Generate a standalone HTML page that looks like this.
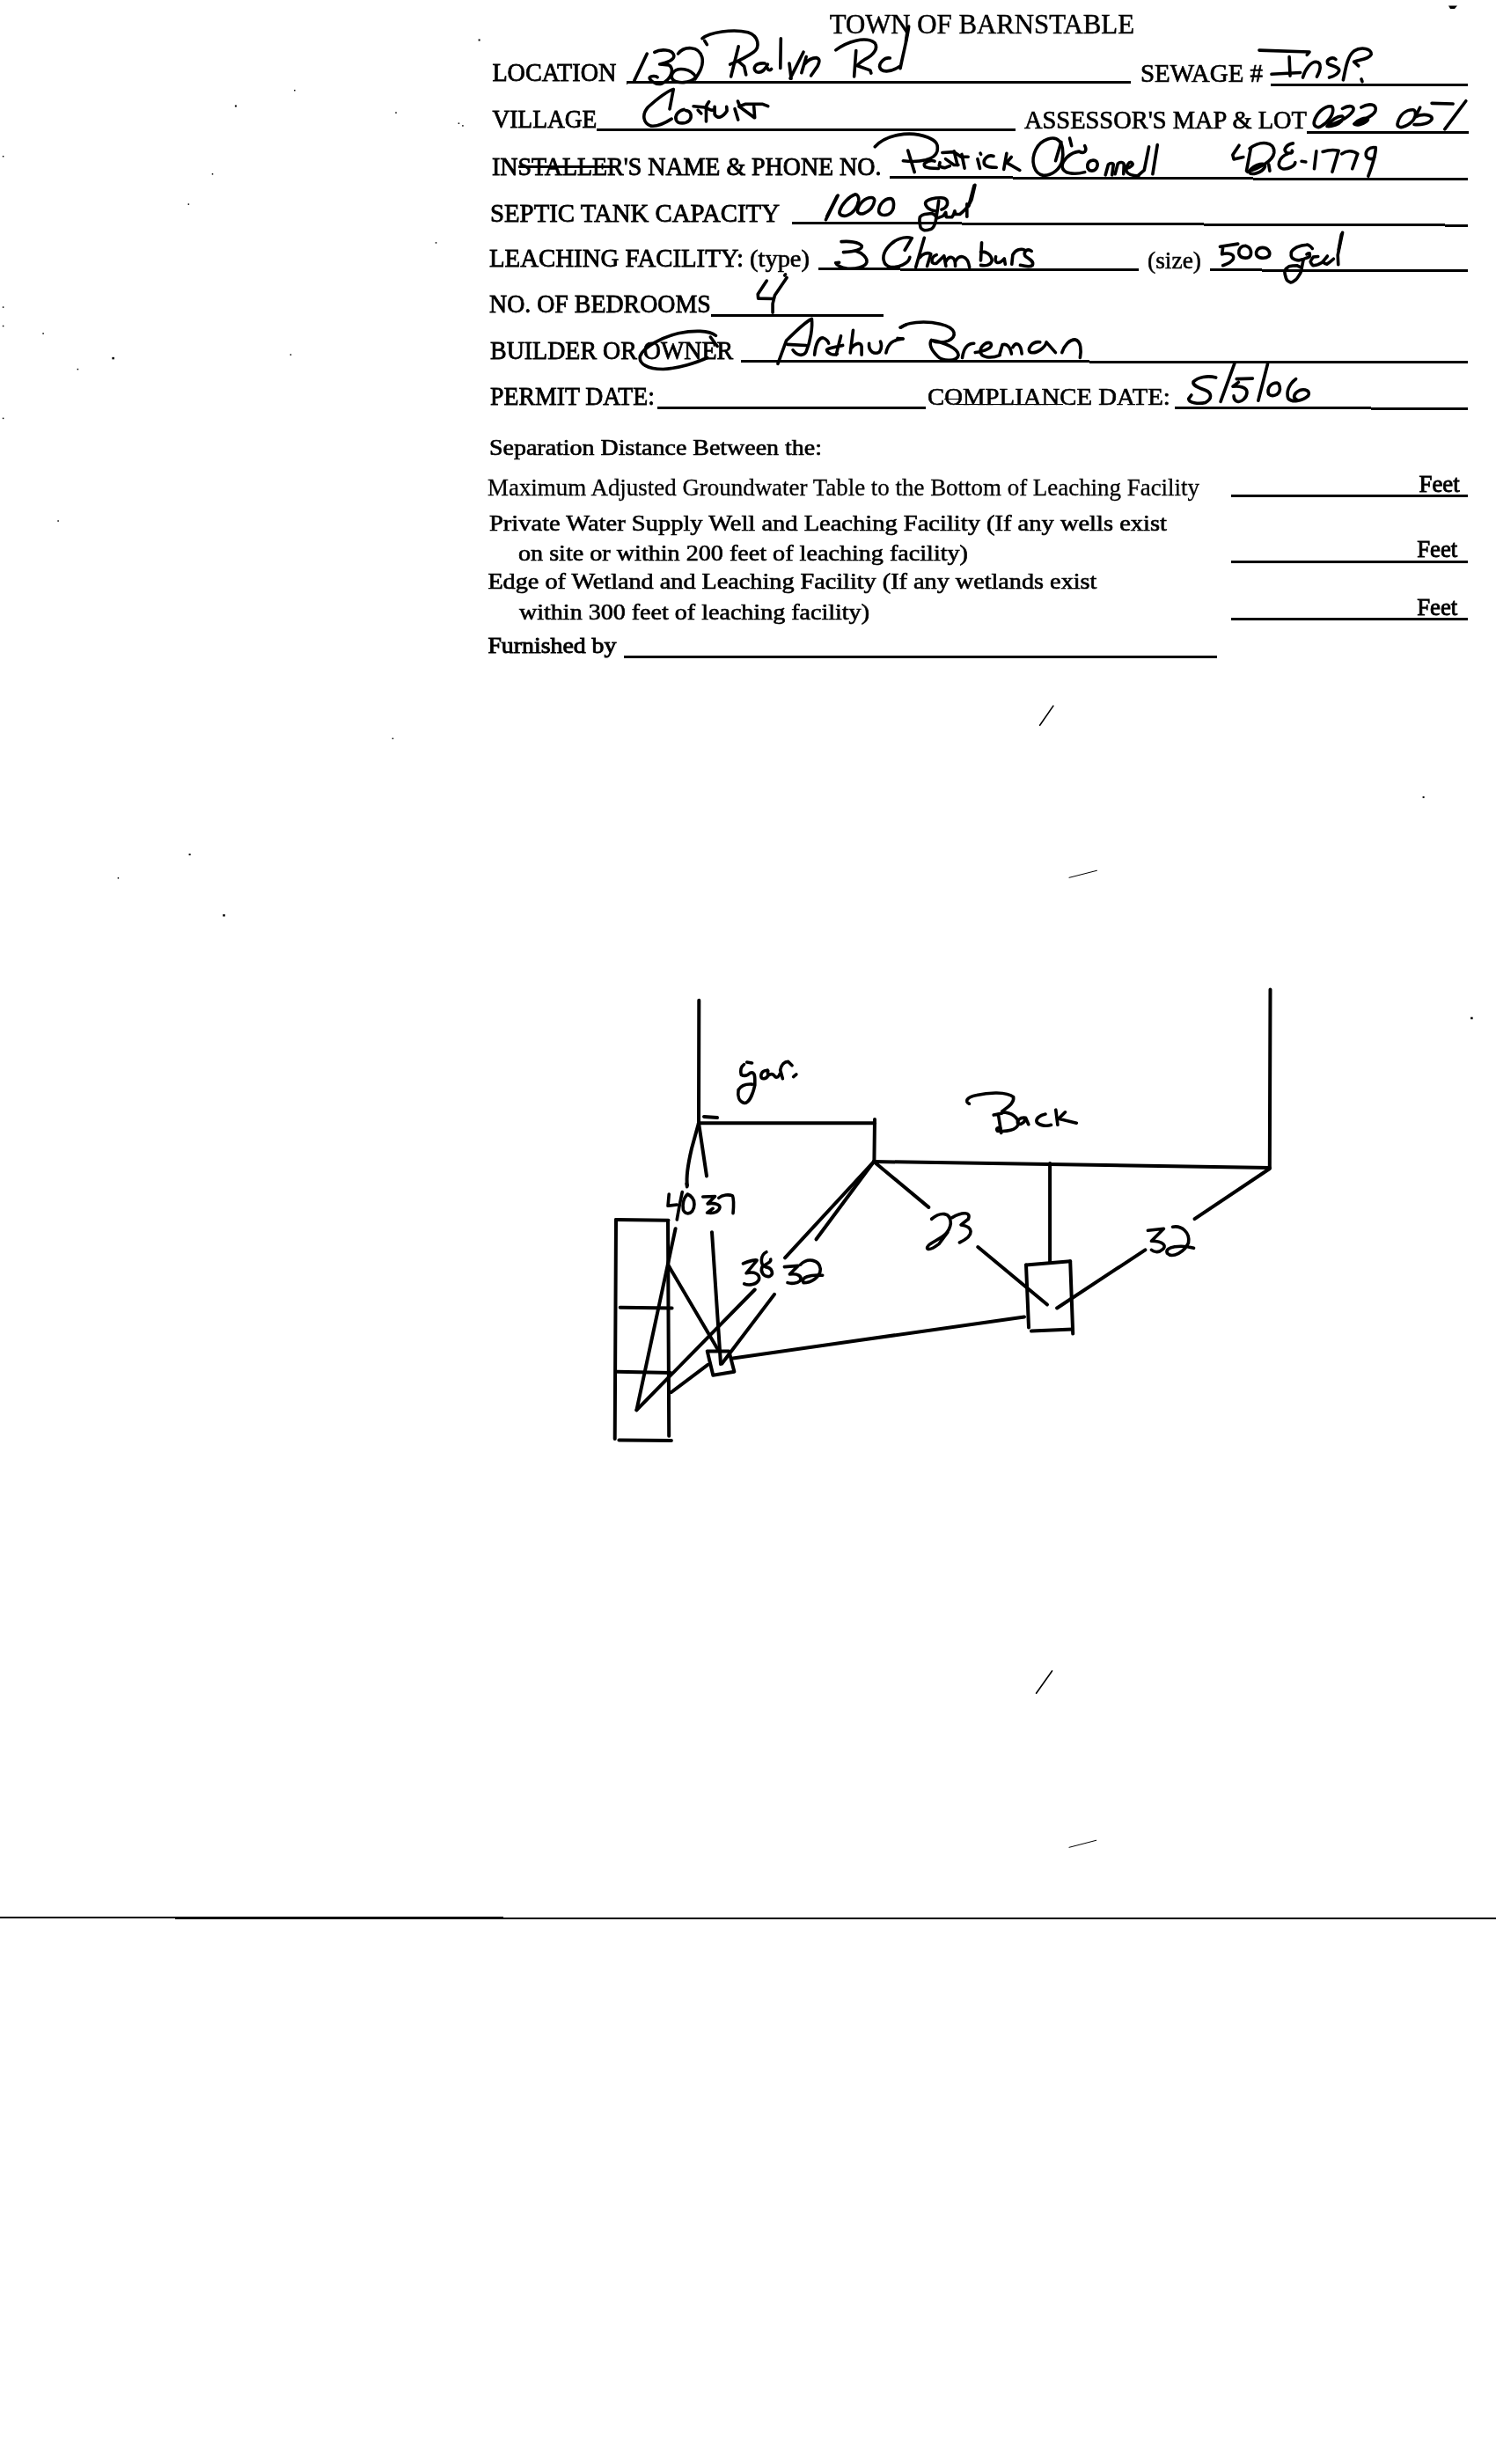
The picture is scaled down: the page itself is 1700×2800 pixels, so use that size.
<!DOCTYPE html><html><head><meta charset="utf-8"><style>html,body{margin:0;padding:0;background:#fff;width:1700px;height:2800px;overflow:hidden}svg{display:block;will-change:transform}text{font-family:"Liberation Serif",serif;fill:#000}</style></head><body>
<svg width="1700" height="2800" viewBox="0 0 1700 2800">
<g>
<text x="942.7" y="38.0" font-size="31" textLength="346.3" lengthAdjust="spacingAndGlyphs" stroke="#000" stroke-width="0.5">TOWN OF BARNSTABLE</text>
<text x="559.4" y="91.6" font-size="29" textLength="141" lengthAdjust="spacingAndGlyphs" stroke="#000" stroke-width="0.8">LOCATION</text>
<text x="1296" y="92.5" font-size="29" textLength="139" lengthAdjust="spacingAndGlyphs" stroke="#000" stroke-width="0.7">SEWAGE #</text>
<text x="559.4" y="145" font-size="29" textLength="119" lengthAdjust="spacingAndGlyphs" stroke="#000" stroke-width="0.8">VILLAGE</text>
<text x="1164" y="145.7" font-size="29" textLength="321" lengthAdjust="spacingAndGlyphs" stroke="#000" stroke-width="0.7">ASSESSOR'S MAP &amp; LOT</text>
<text x="559" y="198.8" font-size="29" textLength="442.4" lengthAdjust="spacingAndGlyphs" stroke="#000" stroke-width="0.9">INSTALLER'S NAME &amp; PHONE NO.</text>
<text x="557" y="251.5" font-size="29" textLength="329" lengthAdjust="spacingAndGlyphs" stroke="#000" stroke-width="0.8">SEPTIC TANK CAPACITY</text>
<text x="556" y="303" font-size="29" textLength="289" lengthAdjust="spacingAndGlyphs" stroke="#000" stroke-width="0.8">LEACHING FACILITY:</text>
<text x="852" y="303" font-size="27" textLength="68" lengthAdjust="spacingAndGlyphs" stroke="#000" stroke-width="0.6">(type)</text>
<text x="1304" y="304.5" font-size="27" textLength="61" lengthAdjust="spacingAndGlyphs" stroke="#000" stroke-width="0.5">(size)</text>
<text x="556" y="355" font-size="28.5" textLength="251.7" lengthAdjust="spacingAndGlyphs" stroke="#000" stroke-width="0.8">NO. OF BEDROOMS</text>
<text x="557" y="407.6" font-size="28.5" textLength="276.2" lengthAdjust="spacingAndGlyphs" stroke="#000" stroke-width="0.8">BUILDER OR OWNER</text>
<text x="557" y="460.3" font-size="28.5" textLength="187" lengthAdjust="spacingAndGlyphs" stroke="#000" stroke-width="0.8">PERMIT DATE:</text>
<text x="1054" y="460.3" font-size="27" textLength="275.8" lengthAdjust="spacingAndGlyphs" stroke="#000" stroke-width="0.6">COMPLIANCE DATE:</text>
<text x="556" y="516.5" font-size="26" textLength="378" lengthAdjust="spacingAndGlyphs" stroke="#000" stroke-width="0.65">Separation Distance Between the:</text>
<text x="554" y="563.2" font-size="27" textLength="809" lengthAdjust="spacingAndGlyphs" stroke="#000" stroke-width="0.3">Maximum Adjusted Groundwater Table to the Bottom of Leaching Facility</text>
<text x="1612.6" y="559.1" font-size="27" textLength="46.1" lengthAdjust="spacingAndGlyphs" stroke="#000" stroke-width="0.9">Feet</text>
<text x="556" y="603.3" font-size="26" textLength="770" lengthAdjust="spacingAndGlyphs" stroke="#000" stroke-width="0.65">Private Water Supply Well and Leaching Facility  (If any wells exist</text>
<text x="589" y="637.1" font-size="26" textLength="511" lengthAdjust="spacingAndGlyphs" stroke="#000" stroke-width="0.65">on site or within 200 feet of leaching facility)</text>
<text x="1610.2" y="633.3" font-size="27" textLength="46.1" lengthAdjust="spacingAndGlyphs" stroke="#000" stroke-width="0.9">Feet</text>
<text x="554.4" y="669.2" font-size="26" textLength="692" lengthAdjust="spacingAndGlyphs" stroke="#000" stroke-width="0.65">Edge of Wetland and Leaching Facility (If any wetlands exist</text>
<text x="590" y="704.3" font-size="26" textLength="398" lengthAdjust="spacingAndGlyphs" stroke="#000" stroke-width="0.65">within 300 feet of leaching facility)</text>
<text x="1610.2" y="699" font-size="27" textLength="46.1" lengthAdjust="spacingAndGlyphs" stroke="#000" stroke-width="0.9">Feet</text>
<text x="554.4" y="742.4" font-size="26" textLength="146" lengthAdjust="spacingAndGlyphs" stroke="#000" stroke-width="0.9">Furnished by</text>
</g><g stroke="#000" fill="none" stroke-linecap="butt" shape-rendering="crispEdges">
<line x1="712.5" y1="94.0" x2="1285" y2="93.8" stroke-width="3.0"/>
<line x1="1444.4" y1="96.5" x2="1667.7" y2="96.9" stroke-width="3.0"/>
<line x1="678" y1="147.1" x2="1154" y2="147.9" stroke-width="3.0"/>
<line x1="1485" y1="150.3" x2="1668.7" y2="150.7" stroke-width="3.0"/>
<line x1="1011.4" y1="201.5" x2="1667.7" y2="203.9" stroke-width="3.0"/>
<line x1="900" y1="253.3" x2="1667.7" y2="256.1" stroke-width="3.0"/>
<line x1="930" y1="305.8" x2="1294.4" y2="306.6" stroke-width="3.0"/>
<line x1="1374.6" y1="306.8" x2="1667.7" y2="307.8" stroke-width="3.0"/>
<line x1="808" y1="358" x2="1004.4" y2="358.2" stroke-width="3.0"/>
<line x1="842.3" y1="410.1" x2="1667.6" y2="412" stroke-width="3.0"/>
<line x1="747" y1="463.1" x2="1052" y2="463.5" stroke-width="3.0"/>
<line x1="1334.8" y1="463.4" x2="1667.6" y2="464.3" stroke-width="3.0"/>
<line x1="1399" y1="563.1" x2="1667.7" y2="563.3" stroke-width="3.0"/>
<line x1="1399" y1="638.3" x2="1667.7" y2="638.5" stroke-width="3.0"/>
<line x1="1399" y1="703.5" x2="1667.7" y2="703.7" stroke-width="3.0"/>
<line x1="709.4" y1="746.2" x2="1383" y2="746.2" stroke-width="2.6"/>
<line x1="0" y1="2179.3" x2="1700" y2="2180.2" stroke-width="2.2"/>
<line x1="588.8" y1="189.4" x2="699.7" y2="189.4" stroke-width="3.0"/>
<line x1="1073" y1="453.5" x2="1092" y2="453.5" stroke-width="1.8"/>
<line x1="1086" y1="459.3" x2="1208.4" y2="459.3" stroke-width="1.6"/>
</g><g stroke="#000" fill="none" stroke-width="4" stroke-linecap="round" stroke-linejoin="round">
<line x1="794.3" y1="1136.7" x2="794" y2="1276"/>
<line x1="794" y1="1276.2" x2="994" y2="1276.2"/>
<line x1="800" y1="1269" x2="815" y2="1270"/>
<line x1="994" y1="1272" x2="993.4" y2="1320"/>
<line x1="993" y1="1320" x2="1442.8" y2="1327"/>
<line x1="1443.5" y1="1124.6" x2="1442.8" y2="1327"/>
<line x1="993" y1="1320" x2="1055.3" y2="1371.9"/>
<line x1="1111.2" y1="1417" x2="1190" y2="1482.5"/>
<line x1="1193.1" y1="1322" x2="1193.1" y2="1434.3"/>
<line x1="1442.8" y1="1328" x2="1357.5" y2="1385.2"/>
<line x1="1301.4" y1="1420.3" x2="1201.1" y2="1486.5"/>
<line x1="993" y1="1320" x2="892" y2="1429.4"/>
<line x1="993" y1="1320" x2="927.5" y2="1408.3"/>
<line x1="857.7" y1="1465.5" x2="723.4" y2="1602.3"/>
<line x1="880" y1="1470.9" x2="820.4" y2="1549.5"/>
<line x1="723.4" y1="1602.3" x2="767.6" y2="1396.2"/>
<line x1="759" y1="1437" x2="815.7" y2="1533.4"/>
<line x1="809" y1="1400.2" x2="819" y2="1550"/>
<line x1="763" y1="1582" x2="804.3" y2="1550.8"/>
<line x1="833" y1="1543.4" x2="1164" y2="1496.4"/>
<line x1="794" y1="1276" x2="803" y2="1336.4"/>
<line x1="700" y1="1386" x2="698.7" y2="1635"/>
<line x1="700" y1="1386" x2="759.5" y2="1386.8"/>
<line x1="759" y1="1387" x2="760.2" y2="1631.7"/>
<line x1="703.4" y1="1636.4" x2="762.9" y2="1637"/>
<line x1="704.7" y1="1485.7" x2="763.6" y2="1486.5"/>
<line x1="701.4" y1="1558.8" x2="762" y2="1560"/>
<line x1="1166" y1="1437.4" x2="1216.2" y2="1433.3"/>
<line x1="1166" y1="1437.4" x2="1169" y2="1508.5"/>
<line x1="1216.2" y1="1433.3" x2="1219.2" y2="1515.6"/>
<line x1="1172" y1="1512.6" x2="1219" y2="1510.5"/>
<path d="M794,1276 L786,1305 Q779,1335 781,1347"/>
<path d="M803.7,1535.4 L828.4,1535.4 L834.4,1558.8 L810.3,1562.8 Z"/>
</g><g stroke="#000" fill="none" stroke-linecap="round">
<line x1="1181.6" y1="824.2" x2="1196.9" y2="802.1" stroke-width="1.6"/>
<line x1="1177.5" y1="1924.2" x2="1195.6" y2="1898.8" stroke-width="1.6"/>
<line x1="1215" y1="997.3" x2="1246.4" y2="989.3" stroke-width="1.0"/>
<line x1="1215" y1="2099.3" x2="1245.7" y2="2091.3" stroke-width="1.0"/>
</g><g stroke="#000" fill="none" stroke-linecap="round" stroke-linejoin="round">
<g transform="translate(700,30) scale(0.10695)" stroke-width="33.66">
<path d="M330,290 L195,575"/>
<path d="M410,275 C470,240 600,240 615,310 C620,350 560,380 465,402 L560,410 C620,440 600,560 480,610 C420,625 340,560 360,540 C380,520 430,530 440,540"/>
<path d="M660,290 C720,210 880,200 915,330 C935,420 880,500 840,560 M850,540 C800,450 650,420 600,500 C570,560 620,600 720,595 C790,590 830,560 850,540"/>
</g>
<g transform="translate(790,25) scale(0.10695)" stroke-width="33.66">
<path d="M75,175 C150,110 400,70 560,110 C680,150 690,270 620,320 C550,370 470,410 370,450"/>
<path d="M460,260 L380,580"/>
<path d="M460,420 L520,470 L540,560"/>
<path d="M740,440 C640,430 600,490 650,530 C700,550 740,510 770,450 M760,460 C770,520 790,520 810,500"/>
<path d="M910,175 L905,490"/>
<path d="M1000,440 L1020,600 M1150,320 L1010,600"/>
<path d="M1180,370 L1130,540 M1160,450 C1200,400 1250,380 1290,380 C1330,390 1320,430 1300,470 L1230,570"/>
<path d="M100,200 L125,240"/>
</g>
<g transform="translate(930,20) scale(0.10695)" stroke-width="33.66">
<path d="M185,345 C300,260 500,190 600,270 C640,330 580,400 500,440 C450,470 420,500 410,510 L550,560 L560,590"/>
<path d="M400,350 L380,625"/>
<path d="M760,430 C700,420 650,480 650,520 C660,580 760,590 860,520"/>
<path d="M960,95 C950,200 900,380 870,540"/>
<path d="M950,110 L930,250"/>
</g>
<g transform="translate(715,95) scale(0.10695)" stroke-width="33.66">
<path d="M430,270 L470,60 C400,80 300,160 200,250 C130,330 150,420 230,450 C300,460 380,420 450,375"/>
<path d="M580,275 C520,290 480,340 500,390 C520,430 600,430 640,390 C670,350 660,290 600,285"/>
<path d="M848,193 C830,215 818,226 818,260 L818,402"/>
<path d="M683,241 L803,253 L870,282 L900,282"/>
<path d="M731,282 L765,317"/>
<path d="M908,246 L908,328 C920,350 945,358 960,358 C990,350 1020,320 1039,290 L1035,246"/>
<path d="M1154,187 L1169,224 M1122,268 L1157,384"/>
<path d="M1169,243 L1231,218 L1419,218 L1475,240"/>
<path d="M1169,243 L1331,362 M1325,243 L1334,362"/>
</g>
<g transform="translate(990,140) scale(0.10695)" stroke-width="33.66">
<path d="M40,250 C150,130 400,70 600,150 C700,190 715,230 700,300 C690,340 650,370 580,391 C500,410 420,410 340,400"/>
<path d="M390,290 L460,520"/>
<path d="M674,403 C640,390 600,400 565,429 C560,450 570,466 580,466 C600,480 636,481 715,481"/>
<path d="M730,418 L722,451 C740,470 786,474 786,474 L835,455"/>
<path d="M756,313 L880,305 L955,358 L1030,358"/>
<path d="M790,380 L880,444 L925,444"/>
<path d="M880,298 L917,444"/>
<path d="M962,331 L992,478"/>
<path d="M1160,320 L1165,330 M1130,380 L1155,480"/>
<path d="M1300,350 C1240,330 1190,380 1200,430 C1220,470 1280,470 1330,470"/>
</g>
<g transform="translate(1130,140) scale(0.10695)" stroke-width="33.66">
<path d="M130,320 L100,490 M180,360 L130,420 L270,500"/>
<path d="M690,190 C640,130 500,160 440,280 C380,400 420,540 520,555 C620,560 700,480 720,400 C740,300 720,220 690,190"/>
<path d="M710,200 L650,400"/>
<path d="M800,160 L820,240"/>
<path d="M960,240 C990,300 950,330 900,300 C800,310 720,400 720,460 C730,540 850,550 960,520"/>
<path d="M1040,395 C990,400 970,460 1010,500 C1060,520 1100,480 1095,430 C1090,400 1060,390 1040,395"/>
<path d="M1180,550 L1210,440 C1230,420 1260,420 1265,440 L1250,550"/>
</g>
<g transform="translate(1250,140) scale(0.10695)" stroke-width="33.66">
<path d="M160,540 L190,430 C210,410 250,410 255,440 L250,540"/>
<path d="M280,480 C330,470 360,440 340,420 C310,400 270,460 280,510 C300,550 360,560 410,560"/>
<path d="M520,250 C500,350 480,450 470,500 L400,560"/>
<path d="M610,230 L560,540"/>
</g>
<g transform="translate(1390,140) scale(0.12032)" stroke-width="29.92">
<path d="M150,210 L90,300 L100,340 L190,320"/>
<path d="M260,240 L220,450"/>
<path d="M250,240 C350,160 490,170 480,280 C470,360 330,430 230,460"/>
<path d="M240,460 C300,380 420,360 390,420 C360,470 270,490 250,470"/>
<path d="M430,390 L440,450"/>
<path d="M660,190 C600,200 560,250 600,280 C650,290 660,270 650,260 M610,290 C520,320 500,420 560,430 C620,440 680,400 680,370"/>
<path d="M740,360 L780,365"/>
<path d="M880,265 L860,430"/>
<path d="M940,270 C1000,250 1050,250 1090,260 L1030,460"/>
<path d="M1120,290 C1160,260 1220,250 1270,290 L1220,430"/>
<path d="M1440,230 C1380,220 1340,260 1350,310 C1370,350 1420,340 1430,320 M1440,230 C1440,300 1400,420 1370,500"/>
</g>
<g transform="translate(1480,90) scale(0.13369)" stroke-width="26.93">
<path d="M240,230 C180,230 120,290 100,360 C90,400 130,420 160,400 C220,370 260,300 260,260 C260,240 250,230 240,230"/>
<path d="M340,250 C390,220 450,220 430,270 C400,320 300,370 210,400 M210,400 C240,350 300,310 340,315 C360,330 330,370 280,390 C250,400 220,405 210,400"/>
<path d="M500,240 C560,200 640,210 620,270 C600,320 500,350 440,380 M440,380 C470,345 530,325 555,335 C565,350 530,375 490,385 C470,390 450,390 440,380"/>
<path d="M940,260 C880,260 830,300 810,370 C800,400 830,420 870,400 C940,370 970,320 960,280 C955,265 945,260 940,260"/>
<path d="M1000,240 L960,320 C1020,290 1110,300 1100,340 C1080,380 1000,390 950,385"/>
<path d="M1100,205 L1280,210 M1390,185 L1210,425"/>
</g>
<g transform="translate(1430,45) scale(0.09358)" stroke-width="38.47">
<path d="M10,130 L620,150 L590,185"/>
<path d="M375,210 L385,440"/>
<path d="M160,420 L510,400"/>
<path d="M540,460 C570,350 640,270 700,270 C780,280 750,380 710,450"/>
<path d="M940,240 C900,200 820,240 840,290 C870,320 990,330 980,380 C960,430 900,450 860,460"/>
<path d="M1030,490 C1060,350 1080,200 1160,140 C1250,80 1380,110 1370,180 C1350,230 1250,240 1160,270 L1215,320"/>
<path d="M1250,480 L1261,510"/>
</g>
<g transform="translate(930,210) scale(0.12032)" stroke-width="29.92">
<path d="M185,100 L70,330"/>
<path d="M175,110 L80,300"/>
<path d="M350,90 C290,110 220,180 200,250 C190,290 240,300 270,290 C330,270 370,210 380,150 C385,110 365,90 350,90"/>
<path d="M500,120 C440,120 380,180 370,240 C365,270 400,280 430,270 C480,250 520,220 530,150 C530,130 515,120 500,120"/>
<path d="M680,130 C620,130 570,190 570,250 C575,285 620,295 660,280 C700,260 715,220 710,170 C705,140 690,130 680,130"/>
<path d="M1105,247 C1030,235 1005,190 1012,167 C1025,135 1100,122 1159,123 C1210,125 1225,150 1216,190 C1205,215 1175,230 1163,234"/>
<path d="M1136,150 C1130,200 1125,240 1123,247 L1105,358 C1090,400 1070,420 1056,421 C1030,430 1003,430 1003,430 C980,420 963,410 963,394 C955,360 955,320 959,305 C975,285 990,280 1003,278 L1070,270 C1085,275 1095,280 1101,287"/>
<path d="M1101,287 L1123,314 C1150,305 1170,300 1181,292 C1190,280 1200,265 1203,261 C1205,280 1206,295 1208,305 L1261,305 C1275,290 1285,260 1288,247 C1290,260 1294,270 1296,278 L1336,278 C1360,260 1380,240 1394,225 C1420,190 1440,160 1448,136 L1479,3"/>
<path d="M1470,10 L1420,200"/>
<path d="M1403,181 L1403,301"/>
</g>
<g transform="translate(940,265) scale(0.08021)" stroke-width="44.88">
<path d="M200,120 C300,110 450,120 490,180 C500,230 400,260 230,270 M400,250 C500,280 570,350 560,410 C540,480 400,510 280,500 C200,490 130,450 120,420 L170,415"/>
<path d="M1100,240 L1200,70 C1100,40 950,80 850,210 C760,330 790,460 900,480 C1010,490 1160,430 1170,340"/>
</g>
<g transform="translate(1030,265) scale(0.10695)" stroke-width="33.66">
<path d="M190,50 L100,360 M140,260 C170,220 220,200 260,220 L220,350"/>
<path d="M320,230 C260,250 250,340 320,320 L400,240 L420,350 M420,300 C450,240 520,230 520,350 M520,300 C560,220 650,230 670,360"/>
<path d="M800,100 L790,290 M790,200 C840,190 900,220 910,290 C900,340 840,350 790,340"/>
<path d="M950,250 C930,320 980,340 1040,270 L1050,330"/>
<path d="M1120,330 L1130,230 C1160,170 1220,160 1260,180"/>
<path d="M1330,190 C1290,160 1240,190 1260,240 C1290,270 1360,290 1340,340 C1320,360 1250,350 1210,340"/>
</g>
<g transform="translate(1380,260) scale(0.10695)" stroke-width="33.66">
<path d="M60,190 L250,160 M90,200 L80,270 C150,250 220,270 200,320 C180,360 120,380 90,390"/>
<path d="M330,180 C280,180 255,220 260,260 C270,310 330,320 370,300 C400,270 400,200 330,180"/>
<path d="M510,200 C460,200 440,240 445,270 C460,320 540,320 580,290 C600,250 570,200 510,200"/>
<path d="M1041,210 C1020,180 990,165 981,170 C930,170 876,195 876,195 C840,215 820,240 816,250 C810,280 820,300 826,310 C850,330 880,335 901,335 L936,325"/>
<path d="M981,270 C995,260 1011,260 1011,260 C1015,275 1013,290 1011,295 C990,310 960,315 951,320 C945,330 941,345 941,350 L931,400 C925,440 915,470 911,475 C890,510 875,535 866,540 C840,560 820,570 811,570 C780,560 765,540 761,525 C750,490 746,460 746,450 C760,420 780,405 791,400 C820,392 850,390 876,390 L926,415"/>
<path d="M1101,295 C1080,295 1060,298 1051,300 C1035,320 1022,340 1021,350 C1030,375 1045,388 1051,390 C1070,388 1090,384 1101,380 L1161,350"/>
<path d="M1201,290 C1180,315 1160,340 1151,350 C1165,365 1185,373 1196,375 C1220,360 1250,335 1266,320"/>
<path d="M1361,40 L1311,280 L1316,380"/>
<path d="M1350,60 L1320,220"/>
</g>
<g transform="translate(850,305) scale(0.04011)" stroke-width="89.75">
<path d="M530,350 L280,730 L290,850 L720,860"/>
<path d="M1100,260 L760,760 L700,1000 L700,1250"/>
<path d="M1060,170 L1040,200"/>
</g>
<g transform="translate(870,355) scale(0.10695)" stroke-width="33.66">
<path d="M130,545 L220,300 C300,220 420,100 490,70 C500,150 480,300 430,420 C400,470 330,460 290,400"/>
<path d="M230,340 L430,350"/>
<path d="M520,450 C530,350 560,270 610,270 C650,280 670,320 670,330"/>
<path d="M800,250 L750,450 M820,350 C750,370 650,380 650,400 C660,440 720,460 760,440"/>
<path d="M930,190 L900,430 M910,380 C950,330 1010,310 1020,360 L1020,450"/>
<path d="M1100,330 C1090,420 1160,450 1210,420 C1240,380 1230,330 1220,310"/>
<path d="M1280,430 C1300,330 1350,290 1460,280"/>
<path d="M1430,160 L1496,130"/>
</g>
<g transform="translate(1020,355) scale(0.14706)" stroke-width="24.48">
<path d="M30,115 C60,80 200,60 330,90 C460,120 460,190 390,220 C330,240 280,225 260,215 C360,230 470,280 470,330 C460,380 350,380 310,340 C270,300 240,250 260,215"/>
<path d="M0,200 L40,205"/>
<path d="M500,350 C510,280 540,240 590,240"/>
<path d="M600,310 C680,300 740,270 720,240 C690,220 640,260 640,300 C640,350 720,360 790,330"/>
<path d="M790,320 L810,250 C840,240 870,260 880,320 M890,270 C910,230 950,230 960,320"/>
<path d="M1100,230 C1040,220 990,290 1030,310 C1080,320 1140,270 1150,230 L1220,310"/>
<path d="M1270,310 C1290,250 1330,210 1370,210 C1420,220 1420,300 1410,350"/>
</g>
<g transform="translate(1340,405) scale(0.10695)" stroke-width="33.66">
<path d="M390,225 C300,200 200,220 150,270 C140,310 200,330 280,360 C350,390 350,450 280,490 C200,510 100,490 100,450 L130,410"/>
<path d="M590,70 L440,480"/>
<path d="M780,235 L610,240 M630,275 L570,320 C640,310 720,330 720,380 C720,440 660,490 620,480 C590,470 580,440 580,420"/>
<path d="M940,80 L840,470"/>
<path d="M1040,280 C970,280 930,340 950,400 C980,430 1060,420 1070,350 C1070,300 1050,280 1040,280"/>
<path d="M1240,240 C1170,290 1130,380 1160,450 C1200,490 1300,480 1370,420 C1400,370 1340,340 1280,360 C1220,390 1200,440 1250,460"/>
</g>
<g transform="translate(710,370) scale(0.08690)" stroke-width="41.43">
<path d="M1190,130 C1100,60 900,60 700,100 C500,150 250,270 200,400 C180,500 300,570 500,570 C700,560 950,480 1080,420"/>
<path d="M1120,150 L1210,270"/>
</g>
<g transform="translate(830,1200) scale(0.05348)" stroke-width="67.32">
<path d="M460,150 L350,130 M290,180 C220,230 210,320 230,400 C290,430 360,420 420,360 C490,330 520,380 520,500 L520,620 C480,800 400,1000 300,1000 C180,980 150,850 170,720 C230,620 330,590 460,600"/>
<path d="M800,320 C720,280 650,350 650,430 C660,500 750,500 800,420 L790,300 M800,420 C850,380 900,360 950,440 C980,470 1040,440 1050,380"/>
<path d="M1110,480 L1060,300 C1080,180 1150,120 1230,120 L1310,200"/>
<path d="M1340,440 L1400,390"/>
</g>
<g transform="translate(750,1345) scale(0.06017)" stroke-width="59.83">
<path d="M170,200 L150,420 L320,400"/>
<path d="M420,160 L370,400 L320,680"/>
<path d="M520,200 C440,270 420,400 440,500 C470,570 550,590 610,520 C660,450 660,330 610,270 C570,220 520,200 520,200"/>
<path d="M810,250 L1040,240 L900,380 C1000,360 1130,380 1130,450 C1110,540 1000,570 890,550 L1000,470"/>
<path d="M1110,270 C1180,210 1300,200 1370,230 C1400,300 1390,450 1380,560"/>
<path d="M500,0 L510,60"/>
</g>
<g transform="translate(830,1300) scale(0.12034)" stroke-width="29.92">
<path d="M120,1130 C180,1100 250,1090 250,1100 L150,1220 C230,1200 280,1230 270,1280 C250,1330 170,1340 130,1320"/>
<path d="M340,1020 C280,1050 280,1140 330,1160 C400,1170 410,1230 370,1250 C310,1260 280,1200 300,1160 C330,1130 390,1120 380,1090"/>
<path d="M510,1160 L640,1150 L560,1230 C640,1220 680,1250 660,1290 C630,1320 570,1320 540,1310"/>
<path d="M660,1140 C730,1070 840,1090 850,1180 C850,1260 760,1310 690,1310 C660,1260 750,1230 870,1240"/>
</g>
<g transform="translate(960,1290) scale(0.16711)" stroke-width="21.54">
<path d="M590,570 C650,520 720,520 720,600 C710,680 640,700 580,740 C540,770 560,800 640,740 L700,660"/>
<path d="M730,560 C800,520 860,520 840,570 L790,610 C870,620 890,680 780,730"/>
</g>
<g transform="translate(1150,1300) scale(0.20052)" stroke-width="17.95">
<path d="M770,490 L860,480 L790,550 C860,550 880,580 850,600 C830,620 800,610 790,600"/>
<path d="M910,470 C960,460 1010,500 1000,560 C980,610 910,650 880,620 C860,580 960,570 1030,590"/>
</g>
<g transform="translate(1080,1220) scale(0.10695)" stroke-width="33.66">
<path d="M200,320 C150,300 170,250 280,230 C400,200 600,190 670,250 C680,320 600,360 550,400"/>
<path d="M460,440 L550,420 M510,440 L540,630"/>
<path d="M550,410 C650,410 730,470 720,540 C700,600 600,620 500,610 C480,580 510,570 530,580"/>
<path d="M800,470 C740,460 700,500 720,540 C760,540 800,510 800,470 L830,540"/>
<path d="M1010,430 C950,440 900,480 920,520 C960,560 1030,560 1070,545"/>
<path d="M1120,385 L1140,545 M1220,410 L1150,480 L1340,525"/>
</g>
</g><g fill="#000">
<rect x="543.6" y="44.5" width="2" height="2"/>
<rect x="334.05" y="101.95" width="1.5" height="1.5"/>
<rect x="266.9" y="119.5" width="2" height="2"/>
<rect x="449.25" y="127.35" width="1.5" height="1.5"/>
<rect x="520.65" y="139.45" width="1.5" height="1.5"/>
<rect x="525.15" y="142.15" width="1.5" height="1.5"/>
<rect x="2.85" y="176.95" width="1.5" height="1.5"/>
<rect x="240.75" y="197.05" width="1.5" height="1.5"/>
<rect x="213.55" y="231.35" width="1.5" height="1.5"/>
<rect x="494.75" y="275.15" width="1.5" height="1.5"/>
<rect x="2.85" y="348.35" width="1.5" height="1.5"/>
<rect x="2.85" y="369.75" width="1.5" height="1.5"/>
<rect x="48.35" y="378.25" width="1.5" height="1.5"/>
<rect x="127.35" y="405.85" width="2.5" height="2.5"/>
<rect x="87.65" y="418.85" width="1.5" height="1.5"/>
<rect x="329.65" y="402.35" width="1.5" height="1.5"/>
<rect x="2.85" y="474.65" width="1.5" height="1.5"/>
<rect x="65.35" y="591.25" width="1.5" height="1.5"/>
<rect x="445.65" y="838.55" width="1.5" height="1.5"/>
<rect x="214.6" y="970.0" width="2" height="2"/>
<rect x="133.65" y="997.05" width="1.5" height="1.5"/>
<rect x="253.25" y="1038.95" width="2.5" height="2.5"/>
<rect x="1616.6" y="904.9" width="2" height="2"/>
<rect x="1671.15" y="1155.75" width="2.5" height="2.5"/>
<path d="M1646,6.5 L1656,6.5 L1653,10 L1648,10 Z"/>
</g></svg></body></html>
